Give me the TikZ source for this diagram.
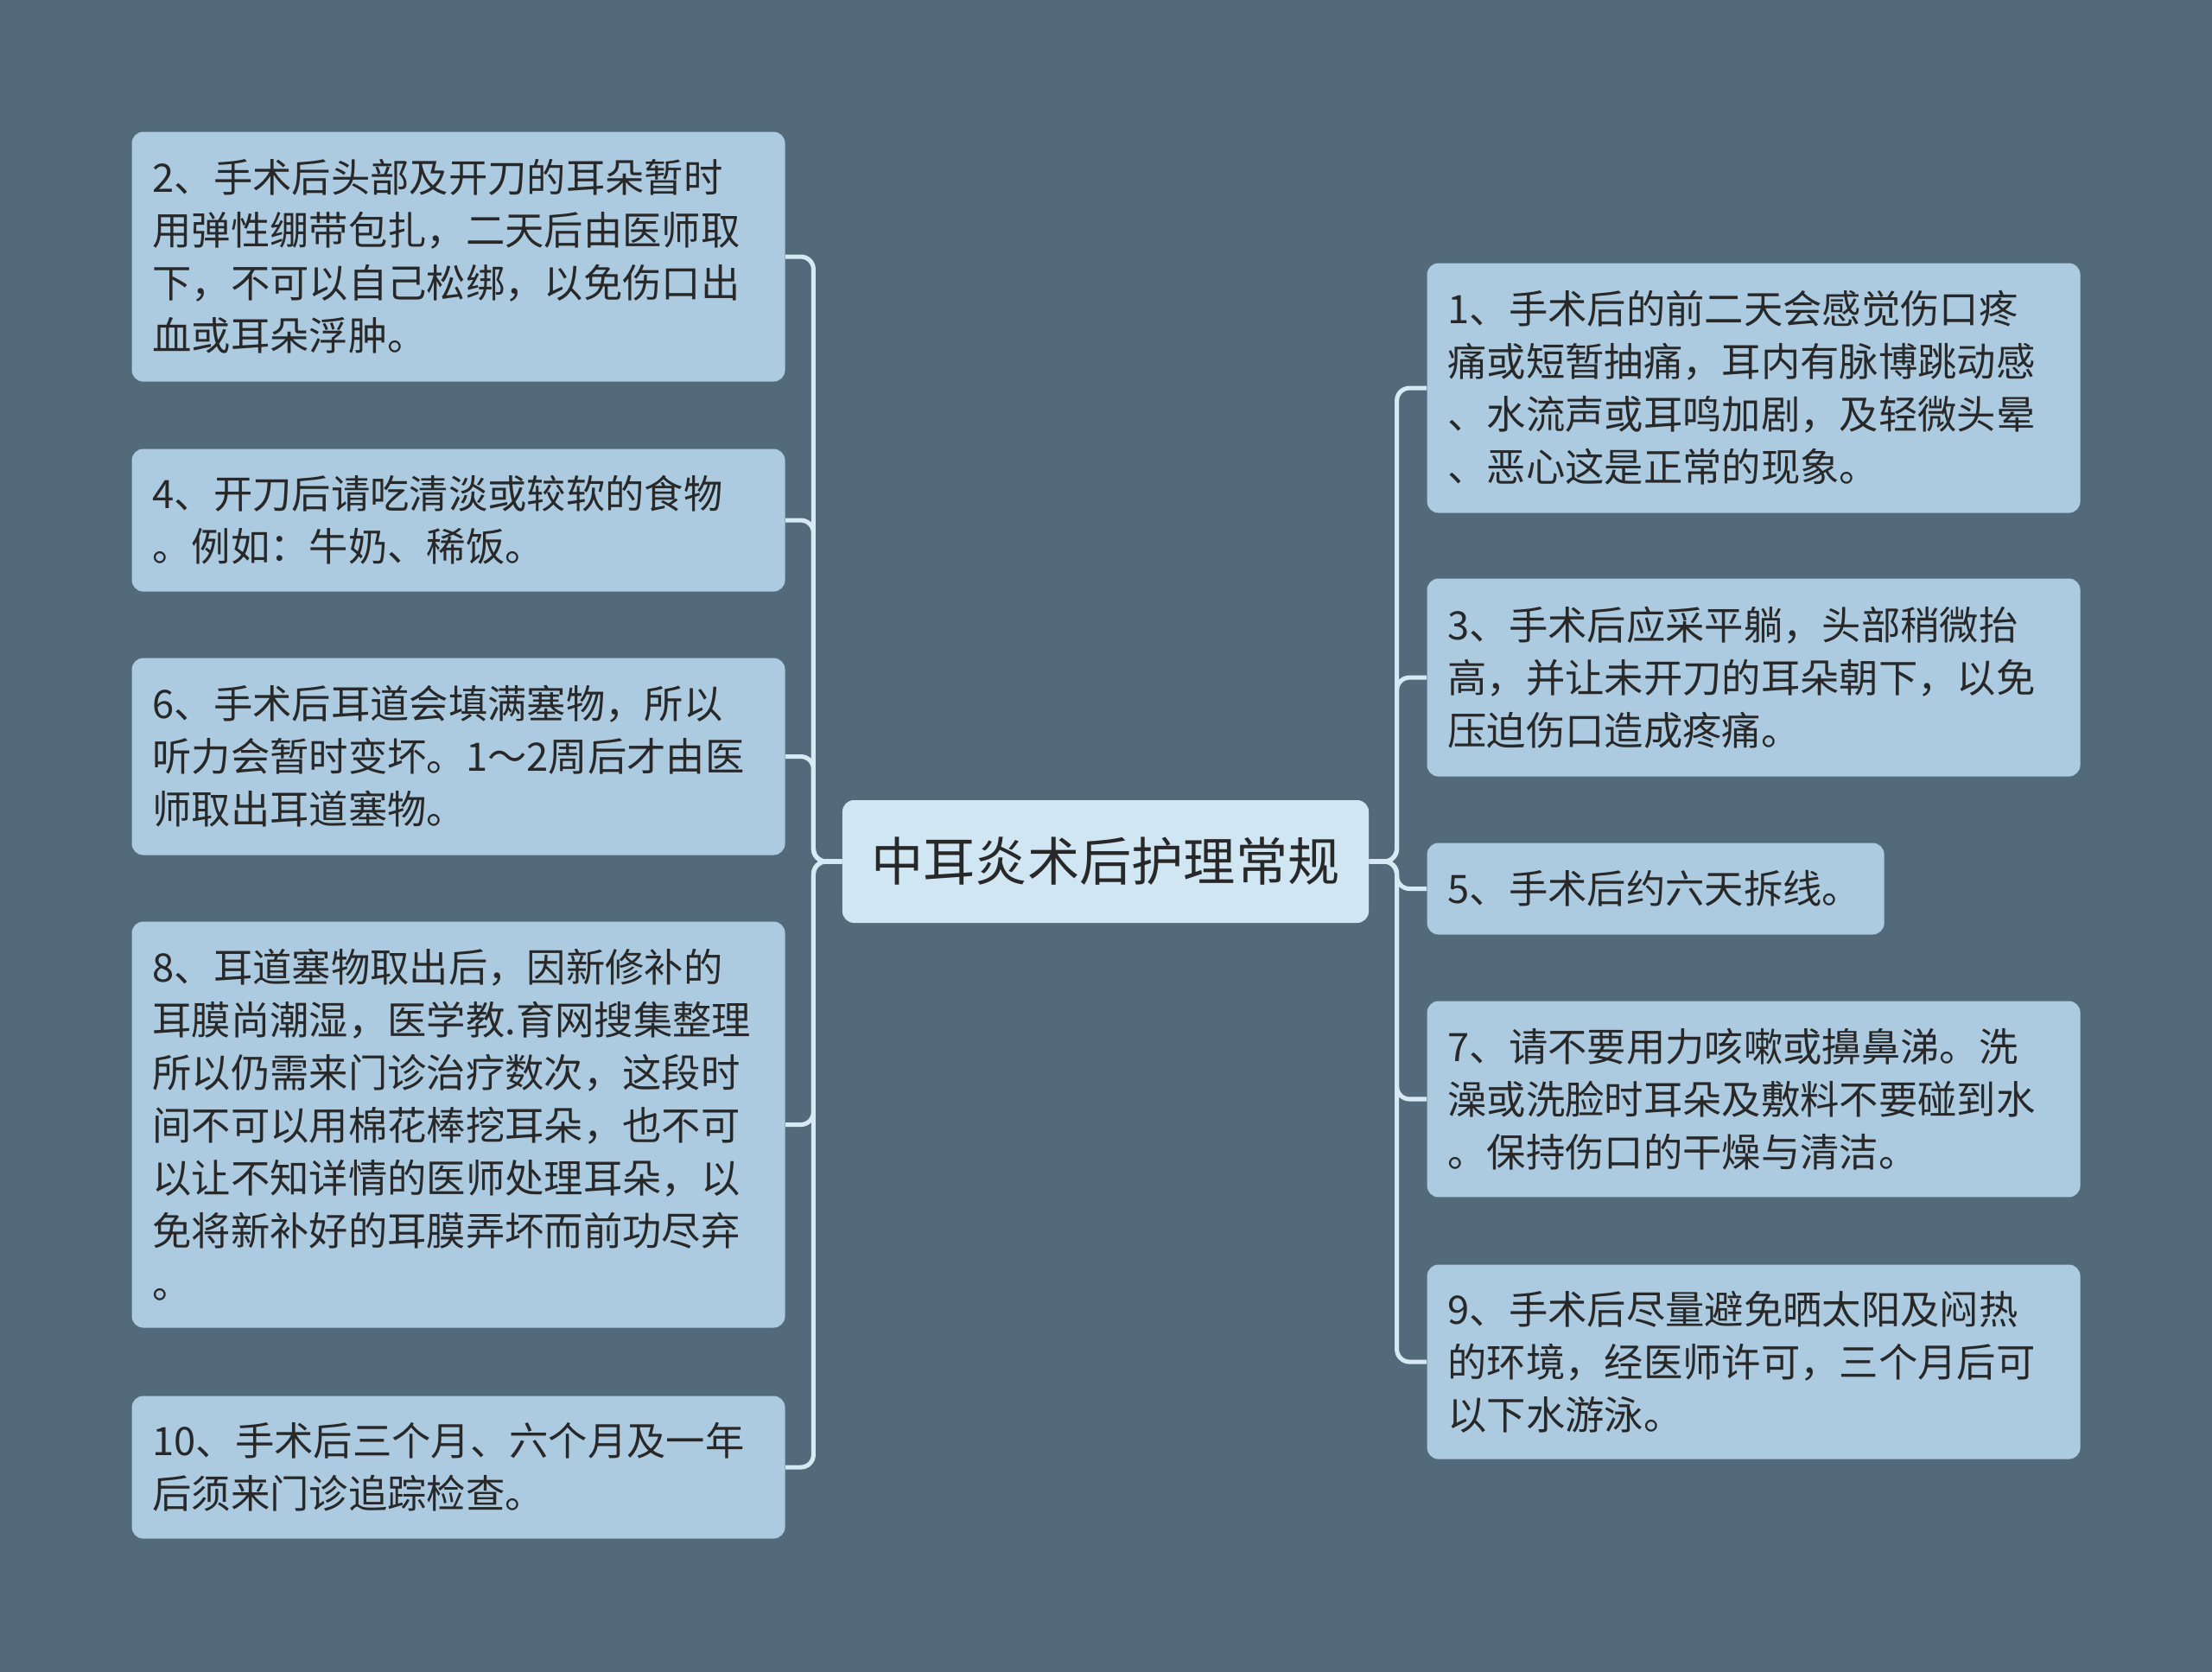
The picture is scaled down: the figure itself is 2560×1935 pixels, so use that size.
\documentclass[tikz,border=0pt]{standalone}
\usepackage{fontspec}
\setmainfont{Noto Sans CJK SC}
\definecolor{bgc}{RGB}{83,106,122}
\definecolor{leafc}{RGB}{173,203,224}
\definecolor{rootc}{RGB}{208,230,242}
\definecolor{txtc}{RGB}{40,40,40}
\definecolor{linec}{RGB}{214,234,245}
\tikzset{
  leafbox/.style n args={3}{fill=leafc, draw=none, rounded corners=5pt,
    minimum width=#1, minimum height=#2, text width=#3,
    inner xsep=9pt, inner ysep=0pt, align=left, anchor=north west,
    text=txtc, font=\fontsize{17pt}{22.86pt}\selectfont},
  rootbox/.style={fill=rootc, draw=none, rounded corners=5pt,
    minimum width=228.4pt, minimum height=53.25pt, inner sep=0pt,
    text=txtc, font=\fontsize{22.6pt}{27pt}\selectfont},
  conn/.style={draw=linec, line width=1.9pt, rounded corners=5.5pt}
}
\begin{document}
\begin{tikzpicture}[x=0.375pt,y=-0.375pt]
\fill[bgc] (0,0) rectangle (2560,1935);
\useasboundingbox (0,0) rectangle (2560,1935);

\node[rootbox] (c) at (1279.5,997) {中耳炎术后护理常规};

% left
\node[leafbox={283.5pt}{108.4pt}{265.5pt}] (n2) at (152,152)
 {2、手术后头部及开刀的耳朵暂时\\用弹性绷带包扎，二天后由医师取\\下，不可以自己松绑，以免伤口出\\血或耳朵浮肿。};
\node[leafbox={283.5pt}{61.9pt}{265.5pt}] (n4) at (152,519)
 {4、开刀后请吃清淡或较软的食物\\。例如：牛奶、稀饭。};
\node[leafbox={283.5pt}{85.5pt}{265.5pt}] (n6) at (152,761)
 {6、手术后耳道会填满塞物，所以\\听力会暂时变坏。1～2周后才由医\\师取出耳道塞物。};
\node[leafbox={283.5pt}{176.25pt}{265.5pt}] (n8) at (152,1066)
 {8、耳道塞物取出后，因新修补的\\耳膜尚潮湿，医学教.育网搜集整理\\所以仍需来门诊治疗数次，这段时\\间不可以用棉花棒挖耳朵，也不可\\以让不知详情的医师处理耳朵，以\\免将新补好的耳膜弄坏而前功尽弃\\。};
\node[leafbox={283.5pt}{61.9pt}{265.5pt}] (n10) at (152,1615)
 {10、手术后三个月、六个月及一年\\后须来门诊追踪检查。};

% right
\node[leafbox={283.5pt}{108.4pt}{265.5pt}] (n1) at (1651,304)
 {1、手术后的前二天会感觉伤口疼\\痛或短暂抽痛，耳内有脉博跳动感\\、水流声或耳鸣加剧，及轻微头晕\\、恶心这是正常的现象。};
\node[leafbox={283.5pt}{85.9pt}{265.5pt}] (n3) at (1651,669)
 {3、手术后应采平躺，头部稍微抬\\高，并让未开刀的耳朵朝下，以免\\压迫伤口造成疼痛。};
\node[leafbox={198.4pt}{39.75pt}{180.4pt}] (n5) at (1651,975)
 {5、手术后约六天拆线。};
\node[leafbox={283.5pt}{85.1pt}{265.5pt}] (n7) at (1651,1158)
 {7、请不要用力咳嗽或擤鼻涕。洗\\澡或洗脸时耳朵及敷料不要碰到水\\。保持伤口的干燥与清洁。};
\node[leafbox={283.5pt}{84.4pt}{265.5pt}] (n9) at (1651,1463)
 {9、手术后尽量避免晒太阳及闷热\\的环境，经医师许可，三个月后可\\以下水游泳。};

% connectors
\foreach \t in {n2,n4,n6,n8,n10}
  \draw[conn] (c.west) -- ++(-33,0) |- (\t.east);
\foreach \t in {n1,n3,n5,n7,n9}
  \draw[conn] (c.east) -- ++(32,0) |- (\t.west);
\end{tikzpicture}
\end{document}
